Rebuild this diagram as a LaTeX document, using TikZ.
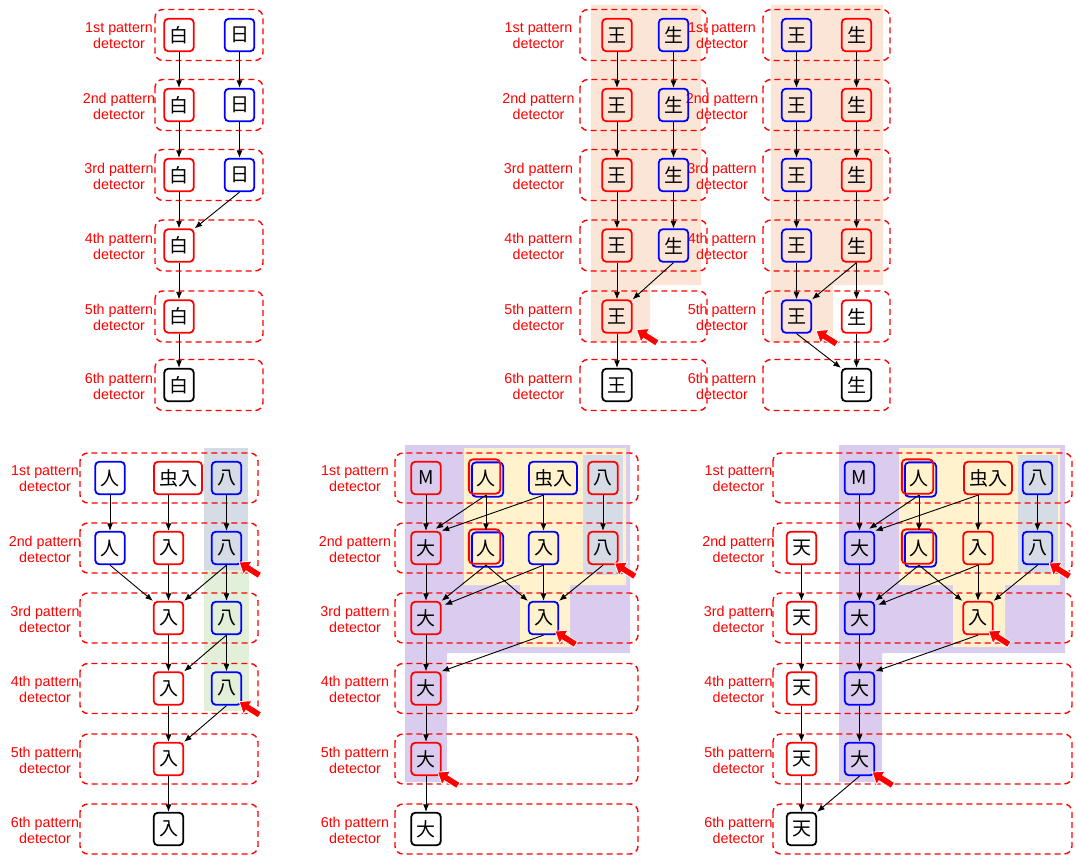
\documentclass[tikz,border=0pt]{standalone}
\usepackage{fontspec}
\setmainfont{Liberation Sans}
\newfontfamily\cjk{Noto Sans CJK JP}
\usetikzlibrary{arrows.meta,calc}
\definecolor{peach}{HTML}{FBE5D6}
\definecolor{lav}{HTML}{DACCEE}
\definecolor{cream}{HTML}{FFF2CC}
\definecolor{slate}{HTML}{D6DCE5}
\definecolor{mint}{HTML}{E2F0D9}
\tikzset{
 nd/.style={draw, rounded corners=4pt, line width=1.8pt, minimum width=29.5pt, minimum height=32.5pt, inner xsep=5pt, inner ysep=0pt, font=\cjk\fontsize{19}{19}\selectfont},
 nr/.style={nd, draw=red}, nb/.style={nd, draw=blue}, nk/.style={nd, draw=black},
 nx/.style={nd, draw=none},
 det/.style={draw=red, line width=1.4pt, dash pattern=on 6pt off 4pt, rounded corners=8pt},
 lbl/.style={text=red, font=\fontsize{14.3}{16}\selectfont, align=center, inner sep=0pt},
 conn/.style={-{Latex[length=7.5pt,width=6pt]}, line width=0.9pt, black},
}
\newcommand\dbl[1]{%
 \draw[blue,line width=1.8pt,rounded corners=4pt] ($(#1.south west)+(1.5,1.5)$) rectangle ($(#1.north east)+(1.5,1.5)$);
 \draw[red,line width=1.8pt,rounded corners=4pt] ($(#1.south west)+(-1.5,-1.5)$) rectangle ($(#1.north east)+(-1.5,-1.5)$);}
\newcommand\ptr[1]{\filldraw[fill=red,draw=white,line width=0.8pt,shift={#1}] (0,0) -- (12.9,-1.0) -- (10.4,2.9) -- (22.4,10.5) -- (18.8,16.2) -- (6.8,8.6) -- (4.3,12.5) -- cycle;}
\begin{document}
\begin{tikzpicture}[x=1pt,y=-1pt]
\useasboundingbox (0,0) rectangle (1076,858);
% ---------- shading ----------
\fill[peach] (591,5) -- (701,5) -- (701,285) -- (650,285) -- (650,342) -- (591,342) -- cycle;
\fill[peach] (771,5) -- (883,5) -- (883,285) -- (833,285) -- (833,342) -- (771,342) -- cycle;
\fill[slate] (204,448) rectangle (248,570);
\fill[mint] (204,570) rectangle (249,711);
\fill[lav] (405,445) -- (630,445) -- (630,653) -- (447,653) -- (447,782) -- (405,782) -- cycle;
\fill[cream] (464,448) -- (626,448) -- (626,585) -- (570,585) -- (570,647) -- (520,647) -- (520,585) -- (464,585) -- cycle;
\fill[slate] (583,455) rectangle (623,575);
\fill[lav] (839,445) -- (1065,445) -- (1065,653) -- (882,653) -- (882,782) -- (839,782) -- cycle;
\fill[cream] (899,448) -- (1060,448) -- (1060,585) -- (1005,585) -- (1005,647) -- (953,647) -- (953,585) -- (899,585) -- cycle;
\fill[slate] (1018,455) rectangle (1058,573);
% ---------- detector boxes ----------
\foreach \y/\o in {35/1st,105/2nd,175/3rd,245.5/4th,316.5/5th,385/6th}{
 \draw[det] (155,\y-25.5) rectangle (263,\y+25.5);
 \draw[det] (580,\y-25.5) rectangle (707,\y+25.5);
 \draw[det] (763,\y-25.5) rectangle (890,\y+25.5);
 \node[lbl] (la\o) at (119,\y+1) {\o\ pattern\\detector};
 \node[lbl] (lb\o) at (538.5,\y+1) {\o\ pattern\\detector};
 \node[lbl] (lc\o) at (722,\y+1) {\o\ pattern\\detector};
}
\foreach \y/\o in {478/1st,548/2nd,618/3rd,688.5/4th,759/5th,829/6th}{
 \draw[det] (80,\y-25) rectangle (258,\y+25);
 \draw[det] (395,\y-25) rectangle (638,\y+25);
 \draw[det] (773,\y-25) rectangle (1072,\y+25);
 \node[lbl] (ld\o) at (45,\y+1) {\o\ pattern\\detector};
 \node[lbl] (le\o) at (355,\y+1) {\o\ pattern\\detector};
 \node[lbl] (lf\o) at (738.5,\y+1) {\o\ pattern\\detector};
}
% ---------- panel A ----------
\node[nr] (aw1) at (179,35) {白};
\node[nb] (as1) at (239.5,35) {日};
\node[nr] (aw2) at (179,105) {白};
\node[nb] (as2) at (239.5,105) {日};
\node[nr] (aw3) at (179,175) {白};
\node[nb] (as3) at (239.5,175) {日};
\node[nr] (aw4) at (179,245.5) {白};
\node[nr] (aw5) at (179,316.5) {白};
\node[nk] (aw6) at (179,385) {白};
\draw[conn] (aw1) -- (aw2);
\draw[conn] (as1) -- (as2);
\draw[conn] (aw2) -- (aw3);
\draw[conn] (as2) -- (as3);
\draw[conn] (aw3) -- (aw4);
\draw[conn] (as3.south) -- (aw4.north east);
\draw[conn] (aw4) -- (aw5);
\draw[conn] (aw5) -- (aw6);
% ---------- panel B ----------
\foreach \i/\y in {1/35,2/105,3/175,4/245.5,5/316.5} \node[nr] (bo\i) at (617,\y) {王};
\foreach \i/\y in {1/35,2/105,3/175,4/245.5} \node[nb] (bs\i) at (673.5,\y) {生};
\node[nk] (bo6) at (617,385) {王};
\draw[conn] (bo1) -- (bo2);
\draw[conn] (bo2) -- (bo3);
\draw[conn] (bo3) -- (bo4);
\draw[conn] (bo4) -- (bo5);
\draw[conn] (bo5) -- (bo6);
\draw[conn] (bs1) -- (bs2);
\draw[conn] (bs2) -- (bs3);
\draw[conn] (bs3) -- (bs4);
\draw[conn] (bs4.south) -- (bo5.north east);
% ---------- panel C ----------
\foreach \i/\y in {1/35,2/105,3/175,4/245.5,5/316.5} \node[nb] (co\i) at (796.5,\y) {王};
\foreach \i/\y in {1/35,2/105,3/175,4/245.5,5/316.5} \node[nr] (cs\i) at (856.5,\y) {生};
\node[nk] (cs6) at (856.5,385) {生};
\draw[conn] (co1) -- (co2);
\draw[conn] (co2) -- (co3);
\draw[conn] (co3) -- (co4);
\draw[conn] (co4) -- (co5);
\draw[conn] (cs1) -- (cs2);
\draw[conn] (cs2) -- (cs3);
\draw[conn] (cs3) -- (cs4);
\draw[conn] (cs4) -- (cs5);
\draw[conn] (cs5) -- (cs6);
\draw[conn] (cs4.south) -- (co5.north east);
\draw[conn] (co5.south) -- (cs6.north west);
% ---------- panel D ----------
\node[nb] (dp1) at (110,478) {人};
\node[nr] (dm1) at (178,478) {虫入};
\node[nb] (dh1) at (226.5,478) {八};
\node[nb] (dp2) at (110,548) {人};
\node[nr] (dr2) at (168.5,548) {入};
\node[nb] (dh2) at (226.5,548) {八};
\node[nr] (dr3) at (168.5,618) {入};
\node[nb] (dh3) at (226.5,618) {八};
\node[nr] (dr4) at (168.5,688.5) {入};
\node[nb] (dh4) at (226.5,688.5) {八};
\node[nr] (dr5) at (168.5,759) {入};
\node[nk] (dr6) at (168.5,829) {入};
\draw[conn] (dp1) -- (dp2);
\draw[conn] (dm1.south -| dr2.north) -- (dr2.north);
\draw[conn] (dh1) -- (dh2);
\draw[conn] (dp2.south) -- (dr3.north west);
\draw[conn] (dr2) -- (dr3);
\draw[conn] (dh2.south) -- (dr3.north east);
\draw[conn] (dh2) -- (dh3);
\draw[conn] (dr3) -- (dr4);
\draw[conn] (dh3.south) -- (dr4.north east);
\draw[conn] (dh3) -- (dh4);
\draw[conn] (dr4) -- (dr5);
\draw[conn] (dh4.south) -- (dr5.north east);
\draw[conn] (dr5) -- (dr6);
% ---------- panel E ----------
\node[nr] (em1) at (426,478) {M};
\node[nx] (ep1) at (486,478) {人};
\node[nb] (ec1) at (553,478) {虫入};
\node[nr] (eh1) at (603,478) {八};
\node[nr] (ed2) at (426,548) {大};
\node[nx] (ep2) at (486,548) {人};
\node[nb] (er2) at (543.5,548) {入};
\node[nr] (eh2) at (603,548) {八};
\node[nr] (ed3) at (426,618) {大};
\node[nb] (er3) at (543.5,618) {入};
\node[nr] (ed4) at (426,688.5) {大};
\node[nr] (ed5) at (426,759) {大};
\node[nk] (ed6) at (426,829) {大};
\dbl{ep1}\dbl{ep2}
\draw[conn] (em1) -- (ed2);
\draw[conn] (ep1.south) -- ($(ed2.north east)+(-6,-2)$);
\draw[conn] (ec1.south -| er2.north) -- (ed2.north east);
\draw[conn] (ep1) -- (ep2);
\draw[conn] (ec1.south -| er2.north) -- (er2.north);
\draw[conn] (eh1) -- (eh2);
\draw[conn] (ed2) -- (ed3);
\draw[conn] (ep2.south) -- (ed3.north east);
\draw[conn] (er2.south) -- ($(ed3.north east)+(3,4)$);
\draw[conn] (ep2.south) -- (er3.north west);
\draw[conn] (er2) -- (er3);
\draw[conn] (eh2.south) -- (er3.north east);
\draw[conn] (ed3) -- (ed4);
\draw[conn] (er3.south) -- (ed4.north east);
\draw[conn] (ed4) -- (ed5);
\draw[conn] (ed5) -- (ed6);
% ---------- panel F ----------
\node[nb] (fm1) at (859.5,478) {M};
\node[nx] (fp1) at (919,478) {人};
\node[nr] (fc1) at (988,478) {虫入};
\node[nb] (fh1) at (1037.5,478) {八};
\node[nr] (ft2) at (801.5,548) {天};
\node[nb] (fd2) at (859.5,548) {大};
\node[nx] (fp2) at (919,548) {人};
\node[nr] (fr2) at (978,548) {入};
\node[nb] (fh2) at (1037.5,548) {八};
\node[nr] (ft3) at (801.5,618) {天};
\node[nb] (fd3) at (859.5,618) {大};
\node[nr] (fr3) at (978,618) {入};
\node[nr] (ft4) at (801.5,688.5) {天};
\node[nb] (fd4) at (859.5,688.5) {大};
\node[nr] (ft5) at (801.5,759) {天};
\node[nb] (fd5) at (859.5,759) {大};
\node[nk] (ft6) at (801.5,829) {天};
\dbl{fp1}\dbl{fp2}
\draw[conn] (fm1) -- (fd2);
\draw[conn] (fp1.south) -- ($(fd2.north east)+(-6,-2)$);
\draw[conn] (fc1.south -| fr2.north) -- (fd2.north east);
\draw[conn] (fp1) -- (fp2);
\draw[conn] (fc1.south -| fr2.north) -- (fr2.north);
\draw[conn] (fh1) -- (fh2);
\draw[conn] (ft2) -- (ft3);
\draw[conn] (fd2) -- (fd3);
\draw[conn] (fp2.south) -- (fd3.north east);
\draw[conn] (fr2.south) -- ($(fd3.north east)+(3,4)$);
\draw[conn] (fp2.south) -- (fr3.north west);
\draw[conn] (fr2) -- (fr3);
\draw[conn] (fh2.south) -- (fr3.north east);
\draw[conn] (ft3) -- (ft4);
\draw[conn] (fd3) -- (fd4);
\draw[conn] (fr3.south) -- (fd4.north east);
\draw[conn] (ft4) -- (ft5);
\draw[conn] (fd4) -- (fd5);
\draw[conn] (ft5) -- (ft6);
\draw[conn] (fd5.south) -- (ft6.north east);
% ---------- red pointers ----------
\ptr{($(bo5.south east)+(4,-4)$)}
\ptr{($(co5.south east)+(4,-3)$)}
\ptr{($(dh2.south east)+(-3,-3)$)}
\ptr{($(dh4.south east)+(-3,-4)$)}
\ptr{($(eh2.south east)+(-4,-2)$)}
\ptr{($(er3.south east)+(-4,-4)$)}
\ptr{($(ed5.south east)+(-4,-4)$)}
\ptr{($(fh2.south east)+(-4,-2)$)}
\ptr{($(fr3.south east)+(-5,-4)$)}
\ptr{($(fd5.south east)+(-3,-4)$)}
\end{tikzpicture}
\end{document}
